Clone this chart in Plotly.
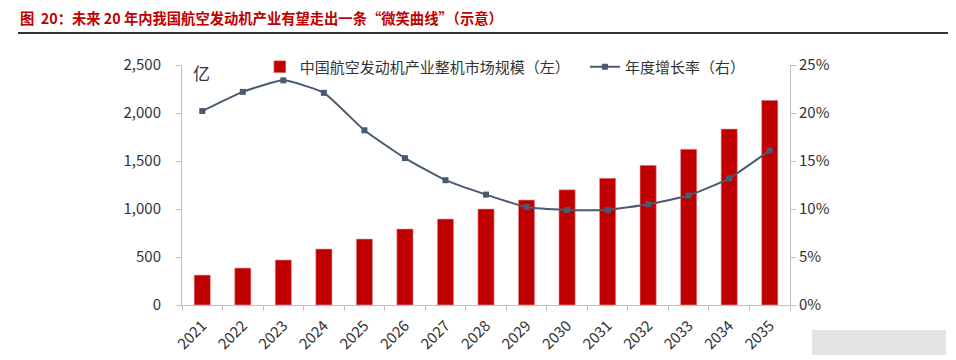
import plotly.graph_objects as go

years = ["2021","2022","2023","2024","2025","2026","2027","2028","2029","2030","2031","2032","2033","2034","2035"]
market = [312, 385, 469, 583, 687, 792, 896, 1000, 1094, 1200, 1320, 1455, 1622, 1833, 2132]
growth = [0.202, 0.222, 0.234, 0.221, 0.182, 0.153, 0.130, 0.115, 0.102, 0.099, 0.099, 0.105, 0.114, 0.132, 0.161]

FONT = "Noto Sans CJK SC"
# page body has an 8px margin: plot area spans screen x 182..790, y 65..305
OX, OY = 8, 8
L, T, PW, PH = 182 - OX, 65 - OY, 608, 240

def px(x):
    return (x - 182) / PW

def py(y):
    return 1 - (y - 65) / PH

fig = go.Figure()
fig.add_trace(go.Bar(x=years, y=market, name="中国航空发动机产业整机市场规模（左）\u00a0\u00a0\u00a0",
                     marker=dict(color="#C00000", line=dict(color="#E8A0A0", width=0.6))))
fig.add_trace(go.Scatter(x=years, y=growth, name="年度增长率（右）", yaxis="y2",
                         mode="lines+markers", line=dict(color="#4A5A70", width=2, shape="spline", smoothing=0.45),
                         marker=dict(symbol="square", size=6, color="#4A5A70")))

axis_line = dict(showline=True, linecolor="#BFBFBF", linewidth=1)
fig.update_layout(
    width=956 - OX, height=360 - OY,
    margin=dict(l=L, r=956 - OX - L - PW, t=T, b=360 - OY - T - PH, autoexpand=False),
    paper_bgcolor="white", plot_bgcolor="white",
    font=dict(family=FONT, size=15, color="#333333"),
    bargap=0.6,
    showlegend=True,
    legend=dict(orientation="h", x=0.128, y=py(67), xanchor="left", yanchor="middle",
                font=dict(size=15, color="#333333"), bgcolor="rgba(0,0,0,0)", itemwidth=30,
                tracegroupgap=0),
    xaxis=dict(type="category", range=[-0.5, len(years) - 0.5], tickangle=-45, ticks="outside",
               tickson="boundaries", ticklen=5, tickcolor="#BFBFBF", showgrid=False, **axis_line,
               ticklabelstandoff=5,
               tickfont=dict(size=15, color="#333333")),
    yaxis=dict(range=[0, 2500], dtick=500, tickformat=",", ticks="outside", ticklen=5,
               tickcolor="#BFBFBF", showgrid=False, zeroline=False, **axis_line,
               ticklabelstandoff=12,
               tickfont=dict(size=15, color="#333333")),
    yaxis2=dict(range=[0, 0.25], dtick=0.05, tickformat=".0%", overlaying="y", side="right",
                ticks="outside", ticklen=5, tickcolor="#BFBFBF", showgrid=False, zeroline=False,
                **axis_line, tickfont=dict(size=15, color="#333333")),
)

fig.add_annotation(text="图  20：未来 20 年内我国航空发动机产业有望走出一条“微笑曲线”（示意）",
                   xref="paper", yref="paper", x=px(18), y=py(17),
                   xanchor="left", yanchor="middle", showarrow=False,
                   font=dict(family=FONT, size=14.3, color="#C00000", weight="bold"))
fig.add_shape(type="line", xref="paper", yref="paper", x0=px(18), x1=px(956),
              y0=py(33), y1=py(33), line=dict(color="#333333", width=2))
fig.add_annotation(text="亿", xref="paper", yref="paper", x=px(191), y=py(72),
                   xanchor="left", yanchor="middle", showarrow=False,
                   font=dict(family=FONT, size=17, color="#333333"))
fig.add_shape(type="rect", xref="paper", yref="paper", x0=px(812), x1=px(946),
              y0=py(330), y1=py(355), line=dict(width=0), fillcolor="#E4E4E4")

fig.write_html("out.html")
